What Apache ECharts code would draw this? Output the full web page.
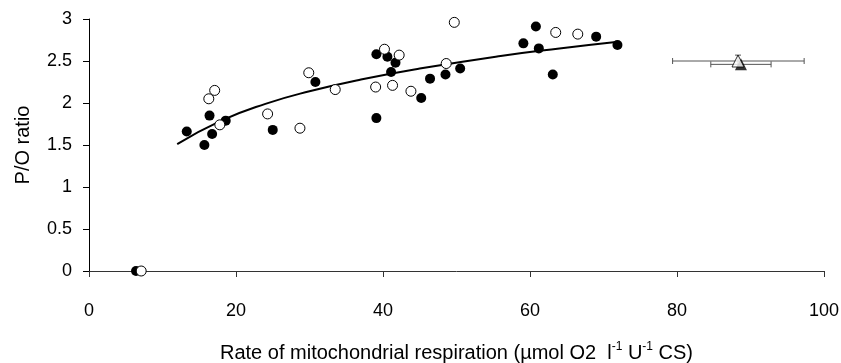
<!DOCTYPE html>
<html lang="en">
<head>
  <meta charset="UTF-8">
  <title>P/O ratio</title>
  <script src="https://cdn.jsdelivr.net/npm/echarts@6/dist/echarts.min.js"></script>
  <style>
    html, body { margin: 0; padding: 0; background: #fff; }
  </style>
</head>
<body>
<div id="main" style="width: 841px; height: 363px;"></div>
<script>
// filled circles [rate, P/O]
var filledPts = [
  [6.4, 0], [13.3, 1.66], [15.7, 1.50], [16.4, 1.85], [16.75, 1.63], [18.6, 1.79],
  [25.0, 1.68], [30.8, 2.25], [39.1, 2.58], [39.1, 1.82], [40.6, 2.55], [41.7, 2.48],
  [41.1, 2.37], [45.2, 2.06], [46.4, 2.29], [48.5, 2.34], [50.5, 2.41], [59.1, 2.71],
  [60.8, 2.91], [61.2, 2.65], [63.1, 2.34], [69.0, 2.79], [71.9, 2.69]
]
// open circles
var openPts = [
  [7.1, 0], [16.3, 2.05], [17.1, 2.15], [17.8, 1.74], [24.3, 1.87], [29.9, 2.36],
  [28.7, 1.70], [33.5, 2.16], [39.0, 2.19], [40.2, 2.64], [42.2, 2.57], [41.3, 2.21],
  [43.8, 2.14], [48.6, 2.47], [49.7, 2.96], [63.5, 2.84], [66.5, 2.82]
]
// trend line
var trendPts = [
  [12, 1.51], [18, 1.79], [24, 1.99], [30, 2.14], [37, 2.28], [45, 2.41],
  [56, 2.56], [64, 2.65], [72, 2.73]
]
// triangles with error bars: [x, y, xLow, xHigh, yLow, yHigh]
var openTri = [[88.3, 2.50, 79.4, 97.3, 2.43, 2.57]]
var filledTri = [[88.7, 2.46, 84.6, 92.8, 2.46, 2.46]]

var xTicks = [0, 20, 40, 60, 80, 100]
var yTicks = [0, 0.5, 1, 1.5, 2, 2.5, 3]

var myChart = echarts.init(document.getElementById('main'))

function errorBars(params, api) {
  var x = api.value(0), y = api.value(1)
  var l = api.coord([api.value(2), y])
  var r = api.coord([api.value(3), y])
  var b = api.coord([x, api.value(4)])
  var t = api.coord([x, api.value(5)])
  var st = { stroke: '#555', lineWidth: 1 }
  var kids = [
    { type: 'line', shape: { x1: l[0], y1: l[1], x2: r[0], y2: r[1] }, style: st },
    { type: 'line', shape: { x1: l[0], y1: l[1] - 3, x2: l[0], y2: l[1] + 3 }, style: st },
    { type: 'line', shape: { x1: r[0], y1: r[1] - 3, x2: r[0], y2: r[1] + 3 }, style: st }
  ]
  if (t[1] !== b[1]) {
    kids.push({ type: 'line', shape: { x1: t[0], y1: t[1], x2: b[0], y2: b[1] }, style: st })
    kids.push({ type: 'line', shape: { x1: t[0] - 3, y1: t[1], x2: t[0] + 3, y2: t[1] }, style: st })
  }
  return { type: 'group', children: kids }
}

var font = 'Liberation Sans, Arial, sans-serif'

var option = {
  animation: false,
  grid: { left: 89, right: 17, top: 19, bottom: 92, containLabel: false, outerBoundsMode: 'none' },
  xAxis: {
    type: 'value',
    min: xTicks[0], max: xTicks[xTicks.length - 1], interval: 20,
    splitLine: { show: false },
    axisLine: { onZero: false, lineStyle: { color: '#333', width: 1 } },
    axisTick: { show: true, length: 6, lineStyle: { color: '#333' } },
    axisLabel: { color: '#000', fontSize: 18, fontFamily: font, margin: 31 },
    name: '{a|Rate of mitochondrial respiration (\u00b5mol O2  l}{s|-1}{a| U}{s|-1}{a| CS)}',
    nameLocation: 'middle',
    nameGap: 70,
    nameTextStyle: {
      rich: {
        a: { fontSize: 20, fontFamily: font, color: '#000', verticalAlign: 'bottom', lineHeight: 22 },
        s: { fontSize: 12, fontFamily: font, color: '#000', verticalAlign: 'top', lineHeight: 22, padding: [0, 0, 8, 0] }
      }
    }
  },
  yAxis: {
    type: 'value',
    min: yTicks[0], max: yTicks[yTicks.length - 1], interval: 0.5,
    splitLine: { show: false },
    axisLine: { show: true, lineStyle: { color: '#000', width: 1 } },
    axisTick: { show: true, length: 6, lineStyle: { color: '#000' } },
    axisLabel: { color: '#000', fontSize: 18, fontFamily: font, margin: 17 },
    name: 'P/O ratio',
    nameLocation: 'middle',
    nameGap: 56,
    nameTextStyle: { color: '#000', fontSize: 20, fontFamily: font }
  },
  series: [
    {
      type: 'line', data: trendPts, smooth: true, symbol: 'none',
      lineStyle: { color: '#000', width: 2 }, z: 2
    },
    {
      type: 'custom', data: openTri, renderItem: errorBars, z: 3,
      encode: { x: 0, y: 1 }
    },
    {
      type: 'custom', data: filledTri, renderItem: errorBars, z: 3,
      encode: { x: 0, y: 1 }
    },
    {
      type: 'scatter', data: filledTri, symbol: 'triangle', symbolSize: 12,
      itemStyle: { color: '#000' }, z: 4
    },
    {
      type: 'scatter', data: openTri, symbol: 'triangle', symbolSize: 12,
      itemStyle: { color: '#fff', borderColor: '#000', borderWidth: 1 }, z: 5
    },
    {
      type: 'scatter', data: filledPts, symbol: 'circle', symbolSize: 10,
      itemStyle: { color: '#000', opacity: 1 }, z: 4
    },
    {
      type: 'scatter', data: openPts, symbol: 'circle', symbolSize: 10,
      itemStyle: { color: '#fff', borderColor: '#000', borderWidth: 1, opacity: 1 }, z: 5
    }
  ]
}
myChart.setOption(option)
</script>
</body>
</html>
